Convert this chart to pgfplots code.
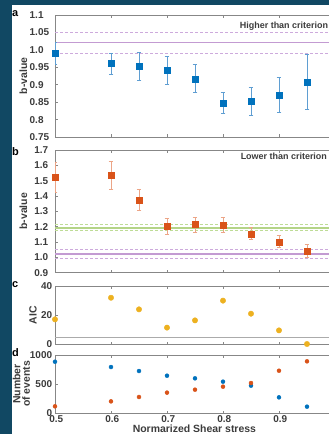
\documentclass[border=0pt]{standalone}
\usepackage{pgfplots}
\pgfplotsset{compat=1.18}
\usepackage{pgfplotstable}
\usepackage{fontspec}
\setmainfont{Liberation Sans}
\definecolor{bg}{RGB}{17,72,99}
\definecolor{mblue}{RGB}{0,114,189}
\definecolor{eblue}{RGB}{95,158,210}
\definecolor{morange}{RGB}{217,83,25}
\definecolor{eorange}{RGB}{236,165,135}
\definecolor{myellow}{RGB}{237,177,32}
\definecolor{lpurple}{RGB}{205,170,220}
\definecolor{spurple}{RGB}{195,155,210}
\definecolor{lgreen}{RGB}{190,220,150}
\definecolor{sgreen}{RGB}{180,212,135}
\definecolor{tickgray}{RGB}{60,60,60}
\definecolor{axgray}{RGB}{135,135,135}

\pgfplotstableread{
x y e
0.5 0.990 0.031
0.6 0.961 0.030
0.65 0.953 0.040
0.7 0.942 0.040
0.75 0.917 0.040
0.8 0.847 0.030
0.85 0.852 0.040
0.9 0.870 0.050
0.95 0.908 0.080
}\tabA
\pgfplotstableread{
x y e
0.5 1.522 0.10
0.6 1.533 0.09
0.65 1.374 0.07
0.7 1.202 0.05
0.75 1.213 0.05
0.8 1.211 0.05
0.85 1.154 0.04
0.9 1.102 0.04
0.95 1.043 0.04
}\tabB
\pgfplotstableread{
x aic
0.5 17.0
0.6 31.9
0.65 23.9
0.7 11.3
0.75 16.3
0.8 29.9
0.85 20.9
0.9 9.4
0.95 0.0
}\tabC
\pgfplotstableread{
x high low
0.5 884 115
0.6 793 201
0.65 724 276
0.7 643 351
0.75 598 402
0.8 540 454
0.85 471 517
0.9 270 729
0.95 109 891
}\tabD

\pgfplotsset{
  base/.style={
    scale only axis, width=275.5bp, xmin=0.5, xmax=0.992,
    anchor=north west,
    axis line style={axgray, line width=0.6pt},
    tick style={axgray, line width=0.6pt},
    tick align=inside, major tick length=2.5bp,
    xtick={0.5,0.6,0.7,0.8,0.9}, xtick pos=both, ytick pos=left,
    xticklabels={},
    /pgf/number format/assume math mode=true,
    ticklabel style={font=\bfseries\fontsize{10}{12}\selectfont, text=tickgray},
    label style={font=\bfseries\fontsize{10.5}{9.5}\selectfont, text=tickgray},
    clip mode=individual,
  },
}

\begin{document}
\begin{tikzpicture}
\useasboundingbox (0,0) rectangle (329bp,-434bp);
\clip (0,0) rectangle (329bp,-434bp);
\fill[bg] (0,0) rectangle (329bp,-434bp);
\fill[white] (12bp,-5bp) rectangle (329bp,-434bp);

% ---------- a ----------
\begin{axis}[base, at={(55bp,-15bp)}, height=122bp,
  ymin=0.75, ymax=1.1,
  ytick={0.75,0.8,0.85,0.9,0.95,1.0,1.05,1.1},
  yticklabels={0.75,0.8,0.85,0.9,0.95,1.0,1.05,1.1},
  yticklabel style={anchor=west, inner sep=0pt, xshift=-25.5bp},
  ylabel={b-value},
  ylabel style={at={(axis description cs:-0.1145,0.5)}, anchor=center},
]
\addplot[spurple, line width=1.8pt] coordinates {(0.5,1.021)(0.992,1.021)};
\addplot[lpurple, line width=0.7pt, dash pattern=on 3bp off 2bp] coordinates {(0.5,1.050)(0.992,1.050)};
\addplot[lpurple, line width=0.7pt, dash pattern=on 3bp off 2bp] coordinates {(0.5,0.990)(0.992,0.990)};
\addplot[only marks, mark=square*, mark size=3bp, mblue,
  error bars/.cd, y dir=both, y explicit, error mark=-,
  error bar style={eblue, line width=0.8pt},
  error mark options={eblue, rotate=90, mark size=2.4bp, line width=0.8pt}]
  table[x=x, y=y, y error=e]{\tabA};
\node[anchor=east, inner sep=0pt, font=\bfseries\fontsize{9}{10}\selectfont, text=tickgray] at (axis cs:0.988,1.068) {Higher than criterion};
\end{axis}

% ---------- b ----------
\begin{axis}[base, at={(55bp,-150bp)}, height=122.7bp,
  ymin=0.9, ymax=1.7,
  ytick={0.9,1.0,1.1,1.2,1.3,1.4,1.5,1.6,1.7},
  yticklabels={0.9,1.0,1.1,1.2,1.3,1.4,1.5,1.6,1.7},
  yticklabel style={anchor=east, inner sep=0pt, xshift=-6.7bp},
  ylabel={b-value},
  ylabel style={at={(axis description cs:-0.1145,0.5)}, anchor=center},
]
\addplot[sgreen, line width=1.4pt] coordinates {(0.5,1.191)(0.992,1.191)};
\addplot[lgreen, line width=0.7pt, dash pattern=on 3bp off 2bp] coordinates {(0.5,1.213)(0.992,1.213)};
\addplot[lgreen, line width=0.7pt, dash pattern=on 3bp off 2bp] coordinates {(0.5,1.174)(0.992,1.174)};
\addplot[spurple, line width=1.8pt] coordinates {(0.5,1.022)(0.992,1.022)};
\addplot[lpurple, line width=0.7pt, dash pattern=on 3bp off 2bp] coordinates {(0.5,1.051)(0.992,1.051)};
\addplot[lpurple, line width=0.7pt, dash pattern=on 3bp off 2bp] coordinates {(0.5,0.995)(0.992,0.995)};
\addplot[only marks, mark=square*, mark size=3bp, morange,
  error bars/.cd, y dir=both, y explicit, error mark=-,
  error bar style={eorange, line width=0.8pt},
  error mark options={eorange, rotate=90, mark size=2.4bp, line width=0.8pt}]
  table[x=x, y=y, y error=e]{\tabB};
\node[anchor=east, inner sep=0pt, font=\bfseries\fontsize{9}{10}\selectfont, text=tickgray] at (axis cs:0.986,1.656) {Lower than criterion};
\end{axis}

% ---------- c ----------
\begin{axis}[base, at={(55bp,-286bp)}, height=58bp,
  ymin=0, ymax=40,
  ytick={0,20,40}, yticklabels={0,20,40},
  yticklabel style={anchor=east, inner sep=0pt, xshift=-2.7bp},
  ylabel={AIC},
  ylabel style={at={(axis description cs:-0.08,0.5)}, anchor=center},
]
\addplot[axgray!70, line width=0.6pt] coordinates {(0.5,4.8)(0.992,4.8)};
\addplot[only marks, mark=*, mark size=2.7bp, myellow, mark options={draw=myellow, fill=myellow}]
  table[x=x, y=aic]{\tabC};
\end{axis}

% ---------- d ----------
\begin{axis}[base, at={(55bp,-355bp)}, height=58bp,
  ymin=0, ymax=1000,
  ytick={0,500,1000}, yticklabels={0,500,1000},
  yticklabel style={anchor=east, inner sep=0pt, xshift=-2.7bp},
  xticklabels={0.5,0.6,0.7,0.8,0.9},
  xticklabel style={anchor=north, inner sep=0pt, yshift=-2bp, xshift=1.2bp},
  ylabel={Number\\of events},
  ylabel style={at={(axis description cs:-0.122,0.5)}, anchor=center, align=center},
  xlabel={Normarized Shear stress},
  xlabel style={at={(axis description cs:0.506,0)}, anchor=base, yshift=-19.8bp},
]
\addplot[only marks, mark=*, mark size=2bp, mblue, mark options={draw=mblue, fill=mblue}]
  table[x=x, y=high]{\tabD};
\addplot[only marks, mark=*, mark size=2bp, morange, mark options={draw=morange, fill=morange}]
  table[x=x, y=low]{\tabD};
\end{axis}

% panel letters
\node[anchor=north west, inner sep=0pt, font=\bfseries\fontsize{11}{12}\selectfont] at (12bp,-10bp) {a};
\node[anchor=north west, inner sep=0pt, font=\bfseries\fontsize{11}{12}\selectfont] at (12bp,-147bp) {b};
\node[anchor=north west, inner sep=0pt, font=\bfseries\fontsize{11}{12}\selectfont] at (12bp,-281.5bp) {c};
\node[anchor=north west, inner sep=0pt, font=\bfseries\fontsize{11}{12}\selectfont] at (12bp,-348bp) {d};
\end{tikzpicture}
\end{document}
